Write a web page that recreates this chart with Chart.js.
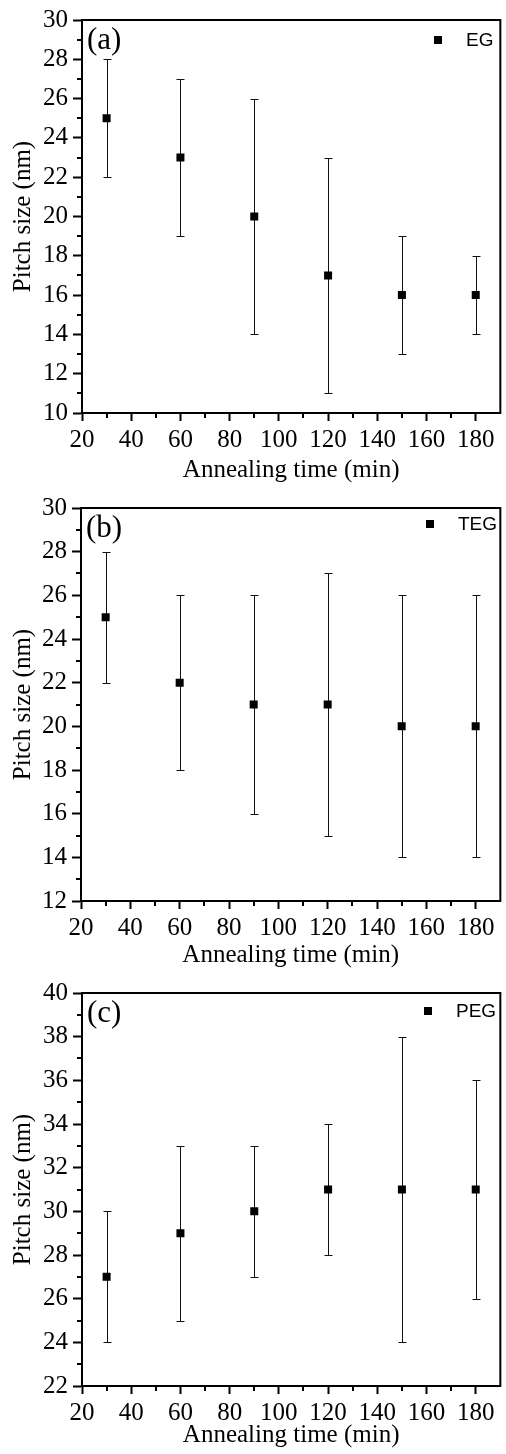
<!DOCTYPE html>
<html>
<head>
<meta charset="utf-8">
<script src="https://cdn.jsdelivr.net/npm/chart.js@4.4.1/dist/chart.umd.min.js"></script>
<style>
  html, body { margin: 0; padding: 0; background: #fff; }
  #wrap { position: relative; width: 506px; height: 1454px; }
  canvas { position: absolute; left: 0; }
</style>
</head>
<body>
<div id="wrap">
  <canvas id="chartA" width="506" height="488" style="top:0px"></canvas>
  <canvas id="chartB" width="506" height="485" style="top:488px"></canvas>
  <canvas id="chartC" width="506" height="481" style="top:973px"></canvas>
</div>
<script>
// Annealing time (min)
const times = [30, 60, 90, 120, 150, 180];

// (a) EG
const egSize = [25, 23, 20, 17, 16, 16];
const egHigh = [28, 27, 26, 23, 19, 18];
const egLow = [22, 19, 14, 11, 13, 14];

// (b) TEG
const tegSize = [25, 22, 21, 21, 20, 20];
const tegHigh = [28, 26, 26, 27, 26, 26];
const tegLow = [22, 18, 16, 15, 14, 14];

// (c) PEG
const pegSize = [27, 29, 30, 31, 31, 31];
const pegHigh = [30, 33, 33, 34, 38, 36];
const pegLow = [24, 25, 27, 28, 24, 26];

// Tick labels
const xTicks = [20, 40, 60, 80, 100, 120, 140, 160, 180];
const yTicksA = [10, 12, 14, 16, 18, 20, 22, 24, 26, 28, 30];
const yTicksB = [12, 14, 16, 18, 20, 22, 24, 26, 28, 30];
const yTicksC = [22, 24, 26, 28, 30, 32, 34, 36, 38, 40];

const serif = "'Liberation Serif', 'Times New Roman', serif";
const sans = "'Liberation Sans', Arial, sans-serif";

Chart.defaults.color = '#000';
Chart.defaults.font.family = serif;

// error bars, drawn under the markers
const errorBars = {
  id: 'errorBars',
  beforeDatasetsDraw(chart, args, opts) {
    const ctx = chart.ctx;
    const xs = chart.scales.x, ys = chart.scales.y;
    ctx.save();
    ctx.strokeStyle = '#111';
    ctx.lineWidth = 1;
    opts.high.forEach((hi, i) => {
      const x = Math.round(xs.getPixelForValue(times[i])) + 0.5;
      const yHi = Math.round(ys.getPixelForValue(hi)) + 0.5;
      const yLo = Math.round(ys.getPixelForValue(opts.low[i])) + 0.5;
      ctx.beginPath();
      ctx.moveTo(x, yHi); ctx.lineTo(x, yLo);
      ctx.moveTo(x - 4, yHi); ctx.lineTo(x + 4, yHi);
      ctx.moveTo(x - 4, yLo); ctx.lineTo(x + 4, yLo);
      ctx.stroke();
    });
    ctx.restore();
  }
};

// box frame, minor ticks, panel letter and legend
const decor = {
  id: 'decor',
  afterDraw(chart, args, opts) {
    const ctx = chart.ctx;
    const a = chart.chartArea;
    const xs = chart.scales.x, ys = chart.scales.y;
    ctx.save();
    ctx.strokeStyle = '#000';
    ctx.lineWidth = 2;
    ctx.strokeRect(a.left, a.top, a.right - a.left, a.bottom - a.top);

    // minor ticks halfway between majors
    ctx.beginPath();
    for (let i = 0; i < xTicks.length - 1; i++) {
      const x = Math.round(xs.getPixelForValue((xTicks[i] + xTicks[i + 1]) / 2));
      ctx.moveTo(x, a.bottom); ctx.lineTo(x, a.bottom + 5);
    }
    const yt = opts.yTicks;
    for (let i = 0; i < yt.length - 1; i++) {
      const y = Math.round(ys.getPixelForValue((yt[i] + yt[i + 1]) / 2));
      ctx.moveTo(a.left, y); ctx.lineTo(a.left - 5, y);
    }
    ctx.stroke();

    // panel letter
    ctx.fillStyle = '#000';
    ctx.font = '31px ' + serif;
    ctx.textBaseline = 'alphabetic';
    ctx.textAlign = 'left';
    ctx.fillText(opts.letter, a.left + 5, a.top + 29);

    // legend
    const mx = opts.legendX, my = a.top + opts.legendY;
    ctx.fillRect(mx - 4, my - 4, 8, 8);
    ctx.font = '19px ' + sans;
    ctx.textBaseline = 'middle';
    ctx.fillText(opts.label, mx + 28, my + 1);
    ctx.restore();
  }
};

function makePanel(id, size, high, low, yTicks, cfg) {
  new Chart(document.getElementById(id), {
    type: 'scatter',
    data: {
      datasets: [{
        label: cfg.label,
        data: times.map((t, i) => ({ x: t, y: size[i] })),
        pointStyle: 'rect',
        pointRadius: 5.66,
        pointBorderWidth: 0,
        backgroundColor: '#000',
        borderColor: '#000'
      }]
    },
    options: {
      responsive: false,
      animation: false,
      devicePixelRatio: 1,
      layout: { padding: { top: 19, right: 1, left: 0, bottom: 0 } },
      plugins: {
        legend: { display: false },
        tooltip: { enabled: false },
        errorBars: { high: high, low: low },
        decor: { yTicks: yTicks, letter: cfg.letter, label: cfg.label, legendX: cfg.legendX, legendY: cfg.legendY }
      },
      scales: {
        x: {
          type: 'linear',
          min: 20,
          max: 190,
          afterBuildTicks: s => { s.ticks = xTicks.map(v => ({ value: v })); },
          afterFit: s => { s.height = cfg.xAxisH; },
          ticks: { font: { size: 25 }, padding: 4, maxRotation: 0, autoSkip: false },
          grid: { drawOnChartArea: false, tickLength: 8, tickWidth: 2, tickColor: '#000' },
          border: { color: '#000', width: 2 },
          title: {
            display: true,
            text: 'Annealing time (min)',
            font: { size: 25 },
            padding: { top: 0, bottom: cfg.xTitlePad }
          }
        },
        y: {
          min: yTicks[0],
          max: yTicks[yTicks.length - 1],
          afterBuildTicks: s => { s.ticks = yTicks.map(v => ({ value: v })); },
          afterFit: s => { s.width = cfg.yAxisW; },
          ticks: { font: { size: 25 }, padding: 5 },
          grid: { drawOnChartArea: false, tickLength: 9, tickWidth: 2, tickColor: '#000' },
          border: { color: '#000', width: 2 },
          title: {
            display: true,
            text: 'Pitch size (nm)',
            font: { size: 25 },
            padding: { top: 8, bottom: 0 }
          }
        }
      }
    },
    plugins: [errorBars, decor]
  });
}

makePanel('chartA', egSize, egHigh, egLow, yTicksA,
  { label: 'EG', letter: '(a)', xAxisH: 75, xTitlePad: 3, yAxisW: 82, legendX: 438, legendY: 20 });
makePanel('chartB', tegSize, tegHigh, tegLow, yTicksB,
  { label: 'TEG', letter: '(b)', xAxisH: 72, xTitlePad: 3, yAxisW: 81, legendX: 430, legendY: 16 });
makePanel('chartC', pegSize, pegHigh, pegLow, yTicksC,
  { label: 'PEG', letter: '(c)', xAxisH: 68, xTitlePad: 4, yAxisW: 82, legendX: 428, legendY: 18 });
</script>
</body>
</html>
